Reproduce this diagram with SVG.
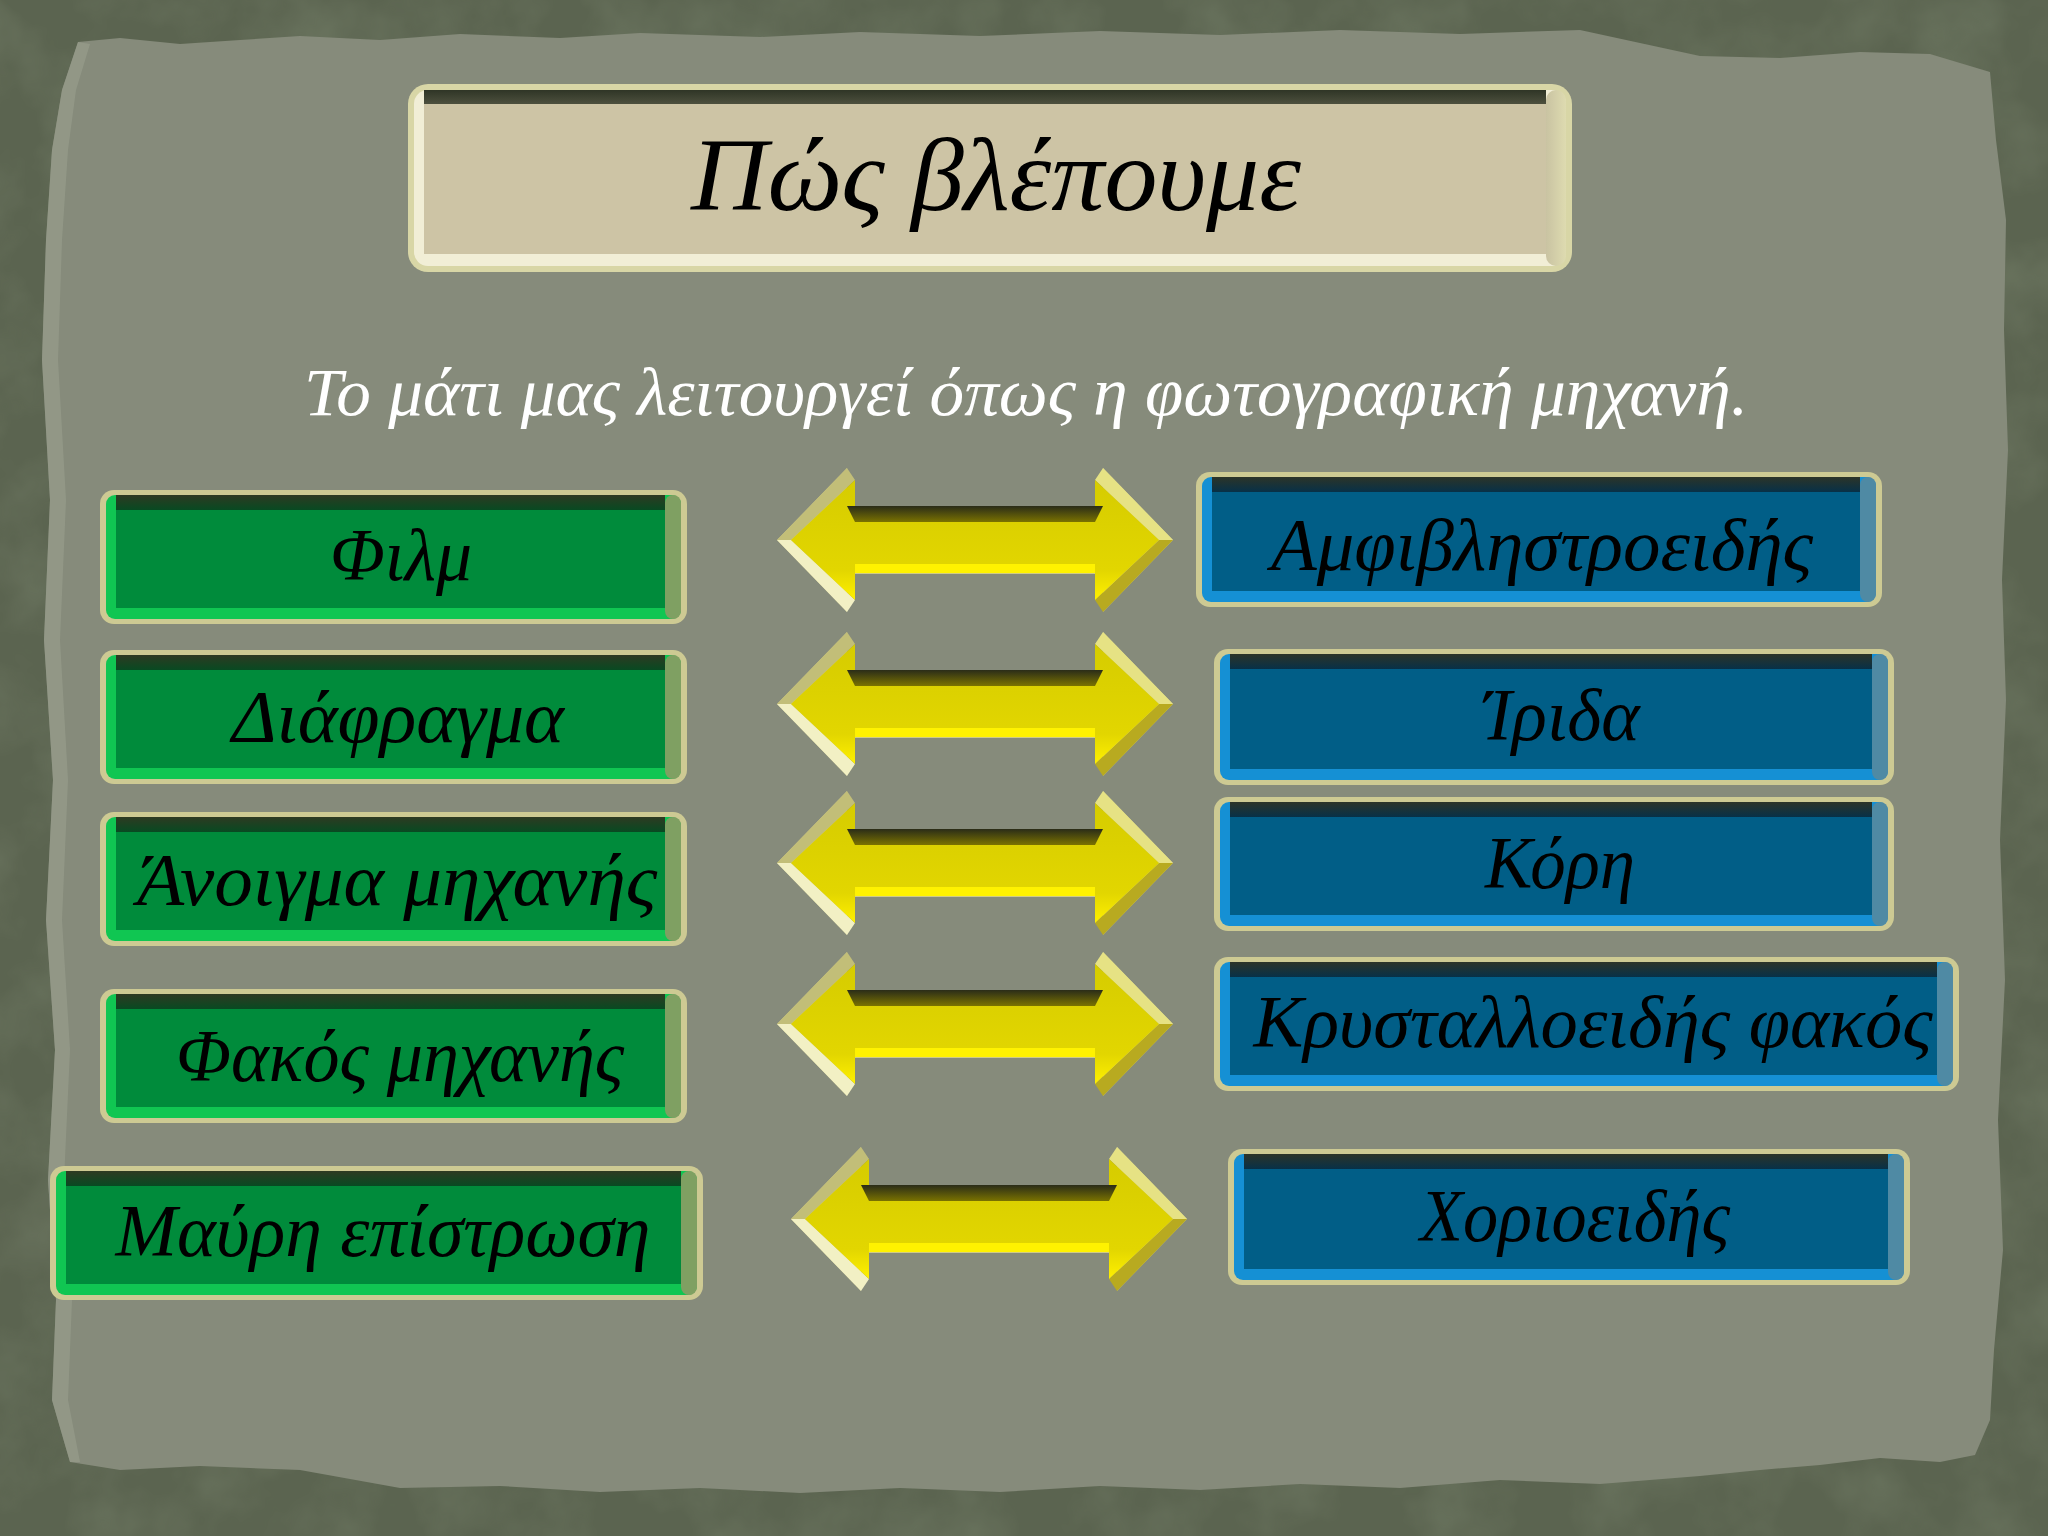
<svg xmlns="http://www.w3.org/2000/svg" width="2048" height="1536" viewBox="0 0 2048 1536">
<defs>
<style>
.txt{font-family:"Liberation Serif","DejaVu Serif",serif;font-style:italic;text-anchor:middle;fill:#000}
.sub{font-family:"Liberation Serif","DejaVu Serif",serif;font-style:italic;text-anchor:middle;fill:#ffffff}
.rim{fill:#cdca93}
.gLt{fill:#10c652}.gDk{fill:url(#gTop)}.gFace{fill:#008b3b}.gRt{fill:#7fa062}
.bLt{fill:#1590d4}.bDk{fill:url(#bTop)}.bFace{fill:#015e87}.bRt{fill:#4f8aa4}
.tRim{fill:#d8d6a6}.tLt{fill:#f1eed6}.tDk{fill:url(#tTop)}.tFace{fill:#cdc4a5}.tRt{fill:url(#tRight)}
</style>
<linearGradient id="gTop" x1="0" y1="0" x2="0" y2="1"><stop offset="0" stop-color="#2e3a22"/><stop offset="1" stop-color="#004d22"/></linearGradient>
<linearGradient id="bTop" x1="0" y1="0" x2="0" y2="1"><stop offset="0" stop-color="#2c3428"/><stop offset="1" stop-color="#00304e"/></linearGradient>
<linearGradient id="tTop" x1="0" y1="0" x2="0" y2="1"><stop offset="0" stop-color="#2f3526"/><stop offset="1" stop-color="#5a5c48"/></linearGradient>
<linearGradient id="tRight" x1="0" y1="0" x2="1" y2="0"><stop offset="0" stop-color="#c9c3a2"/><stop offset="1" stop-color="#dedbb0"/></linearGradient>
<linearGradient id="aFace" x1="0" y1="0" x2="0" y2="1"><stop offset="0" stop-color="#d6cc00"/><stop offset="0.75" stop-color="#e2d600"/><stop offset="1" stop-color="#fff000"/></linearGradient>
<linearGradient id="aDark" x1="0" y1="0" x2="0" y2="1"><stop offset="0" stop-color="#2a2c18"/><stop offset="1" stop-color="#7a7200"/></linearGradient>
<filter id="mottle" x="0" y="0" width="100%" height="100%">
<feTurbulence type="fractalNoise" baseFrequency="0.012" numOctaves="4" seed="7"/>
<feColorMatrix type="matrix" values="0 0 0 0 0.2  0 0 0 0 0.24  0 0 0 0 0.16  0 0 0 -1.4 0.85"/>
</filter>
<g id="arrow">
<polygon points="-198,0 -128,-72 -128,-34 128,-34 128,-72 198,0 128,72 128,34 -128,34 -128,72" fill="#cfcb86"/>
<polygon points="-198,0 -128,72 -120,60 -184,0" fill="#f2f0c4"/>
<polygon points="-198,0 -128,-72 -120,-60 -184,0" fill="#c2be78"/>
<polygon points="198,0 128,-72 120,-60 184,0" fill="#e6e284"/>
<polygon points="198,0 128,72 120,60 184,0" fill="#b8aa20"/>
<polygon points="-184,0 -120,-60 -120,-18 120,-18 120,-60 184,0 120,60 120,25 -120,25 -120,60" fill="url(#aFace)"/>
<polygon points="-128,-34 128,-34 120,-18 -120,-18" fill="url(#aDark)"/>
<rect x="-120" y="24" width="240" height="9" fill="#fff200"/>
</g>
</defs>

<g id="background">
<rect x="0" y="0" width="2048" height="1536" fill="#5b6450"/>
<rect x="0" y="0" width="2048" height="1536" filter="url(#mottle)" opacity="0.55"/>
<path d="M78,42 L120,38 L180,44 L240,40 L300,36 L380,40 L460,34 L560,38 L640,33 L760,37 L860,32 L980,36 L1100,31 L1220,35 L1340,30 L1460,34 L1580,30 L1700,56 L1780,58 L1860,52 L1930,54 L1990,72 L1996,140 L2006,220 L2004,330 L2008,450 L2002,580 L2006,700 L2000,840 L2005,980 L1998,1120 L2003,1250 L1994,1350 L1990,1420 L1975,1455 L1940,1462 L1880,1458 L1820,1465 L1760,1470 L1700,1476 L1600,1484 L1500,1480 L1400,1488 L1300,1484 L1200,1490 L1100,1486 L1000,1492 L900,1488 L800,1493 L700,1488 L600,1492 L500,1486 L400,1488 L300,1470 L200,1466 L120,1470 L70,1462 L52,1400 L56,1300 L48,1180 L55,1050 L46,920 L53,780 L44,640 L50,500 L42,360 L46,240 L52,150 L62,90 Z" fill="#868b7b"/>
<path d="M78,42 L62,90 L52,150 L46,240 L42,360 L50,500 L44,640 L53,780 L46,920 L55,1050 L48,1180 L56,1300 L52,1400 L70,1462 L80,1462 L68,1400 L72,1300 L64,1180 L70,1050 L62,920 L68,780 L60,640 L66,500 L58,360 L62,240 L68,150 L76,90 L90,44 Z" fill="#979c8c" opacity="0.7"/>
</g>

<g id="title">
<rect class="tRim" x="408" y="84" width="1164" height="188" rx="20"/>
<rect class="tLt" x="414" y="90" width="1152" height="176" rx="14"/>
<rect class="tRt" x="1546" y="90" width="20" height="176" rx="10"/>
<rect class="tDk" x="424" y="90" width="1122" height="20"/>
<rect class="tFace" x="424" y="104" width="1122" height="150"/>
<text class="txt" x="996" y="210" font-size="104" textLength="610" lengthAdjust="spacingAndGlyphs">Πώς βλέπουμε</text>
</g>

<g id="subtitle">
<text class="sub" x="1026" y="415" font-size="68" textLength="1444" lengthAdjust="spacingAndGlyphs">Το μάτι μας λειτουργεί όπως η φωτογραφική μηχανή.</text>
</g>

<g id="node-film">
<rect class="rim" x="100" y="490" width="587" height="134" rx="14"/>
<rect class="gLt" x="106" y="495" width="575" height="124" rx="9"/>
<rect class="gRt" x="665" y="495" width="16" height="124" rx="8"/>
<rect class="gDk" x="116" y="495" width="549" height="18"/>
<rect class="gFace" x="116" y="510" width="549" height="98"/>
<text class="txt" x="401" y="580" font-size="74" textLength="142" lengthAdjust="spacingAndGlyphs">Φιλμ</text>
</g>

<g id="node-diafragma">
<rect class="rim" x="100" y="650" width="587" height="134" rx="14"/>
<rect class="gLt" x="106" y="655" width="575" height="124" rx="9"/>
<rect class="gRt" x="665" y="655" width="16" height="124" rx="8"/>
<rect class="gDk" x="116" y="655" width="549" height="18"/>
<rect class="gFace" x="116" y="670" width="549" height="98"/>
<text class="txt" x="398" y="742" font-size="74" textLength="332" lengthAdjust="spacingAndGlyphs">Διάφραγμα</text>
</g>

<g id="node-anoigma">
<rect class="rim" x="100" y="812" width="587" height="134" rx="14"/>
<rect class="gLt" x="106" y="817" width="575" height="124" rx="9"/>
<rect class="gRt" x="665" y="817" width="16" height="124" rx="8"/>
<rect class="gDk" x="116" y="817" width="549" height="18"/>
<rect class="gFace" x="116" y="832" width="549" height="98"/>
<text class="txt" x="397" y="905" font-size="74" textLength="520" lengthAdjust="spacingAndGlyphs">Άνοιγμα μηχανής</text>
</g>

<g id="node-fakos">
<rect class="rim" x="100" y="989" width="587" height="134" rx="14"/>
<rect class="gLt" x="106" y="994" width="575" height="124" rx="9"/>
<rect class="gRt" x="665" y="994" width="16" height="124" rx="8"/>
<rect class="gDk" x="116" y="994" width="549" height="18"/>
<rect class="gFace" x="116" y="1009" width="549" height="98"/>
<text class="txt" x="400" y="1081" font-size="74" textLength="448" lengthAdjust="spacingAndGlyphs">Φακός μηχανής</text>
</g>

<g id="node-mavri">
<rect class="rim" x="50" y="1166" width="653" height="134" rx="14"/>
<rect class="gLt" x="56" y="1171" width="641" height="124" rx="9"/>
<rect class="gRt" x="681" y="1171" width="16" height="124" rx="8"/>
<rect class="gDk" x="66" y="1171" width="615" height="18"/>
<rect class="gFace" x="66" y="1186" width="615" height="98"/>
<text class="txt" x="383" y="1256" font-size="74" textLength="535" lengthAdjust="spacingAndGlyphs">Μαύρη επίστρωση</text>
</g>

<g id="node-amfivlistroeidis">
<rect class="rim" x="1196" y="472" width="686" height="135" rx="14"/>
<rect class="bLt" x="1202" y="477" width="674" height="125" rx="9"/>
<rect class="bRt" x="1860" y="477" width="16" height="125" rx="8"/>
<rect class="bDk" x="1212" y="477" width="648" height="18"/>
<rect class="bFace" x="1212" y="492" width="648" height="99"/>
<text class="txt" x="1542" y="570" font-size="74" textLength="542" lengthAdjust="spacingAndGlyphs">Αμφιβληστροειδής</text>
</g>

<g id="node-irida">
<rect class="rim" x="1214" y="649" width="680" height="136" rx="14"/>
<rect class="bLt" x="1220" y="654" width="668" height="126" rx="9"/>
<rect class="bRt" x="1872" y="654" width="16" height="126" rx="8"/>
<rect class="bDk" x="1230" y="654" width="642" height="18"/>
<rect class="bFace" x="1230" y="669" width="642" height="100"/>
<text class="txt" x="1561" y="740" font-size="74" textLength="157" lengthAdjust="spacingAndGlyphs">Ίριδα</text>
</g>

<g id="node-kori">
<rect class="rim" x="1214" y="797" width="680" height="134" rx="14"/>
<rect class="bLt" x="1220" y="802" width="668" height="124" rx="9"/>
<rect class="bRt" x="1872" y="802" width="16" height="124" rx="8"/>
<rect class="bDk" x="1230" y="802" width="642" height="18"/>
<rect class="bFace" x="1230" y="817" width="642" height="98"/>
<text class="txt" x="1560" y="888" font-size="74" textLength="150" lengthAdjust="spacingAndGlyphs">Κόρη</text>
</g>

<g id="node-krystalloeidis">
<rect class="rim" x="1214" y="957" width="745" height="134" rx="14"/>
<rect class="bLt" x="1220" y="962" width="733" height="124" rx="9"/>
<rect class="bRt" x="1937" y="962" width="16" height="124" rx="8"/>
<rect class="bDk" x="1230" y="962" width="707" height="18"/>
<rect class="bFace" x="1230" y="977" width="707" height="98"/>
<text class="txt" x="1593" y="1047" font-size="74" textLength="679" lengthAdjust="spacingAndGlyphs">Κρυσταλλοειδής φακός</text>
</g>

<g id="node-xorioeidis">
<rect class="rim" x="1228" y="1149" width="682" height="136" rx="14"/>
<rect class="bLt" x="1234" y="1154" width="670" height="126" rx="9"/>
<rect class="bRt" x="1888" y="1154" width="16" height="126" rx="8"/>
<rect class="bDk" x="1244" y="1154" width="644" height="18"/>
<rect class="bFace" x="1244" y="1169" width="644" height="100"/>
<text class="txt" x="1575" y="1241" font-size="74" textLength="310" lengthAdjust="spacingAndGlyphs">Χοριοειδής</text>
</g>

<g id="connectors">
<use href="#arrow" transform="translate(975,540)"/>
<use href="#arrow" transform="translate(975,704)"/>
<use href="#arrow" transform="translate(975,863)"/>
<use href="#arrow" transform="translate(975,1024)"/>
<use href="#arrow" transform="translate(989,1219)"/>
</g>
</svg>
